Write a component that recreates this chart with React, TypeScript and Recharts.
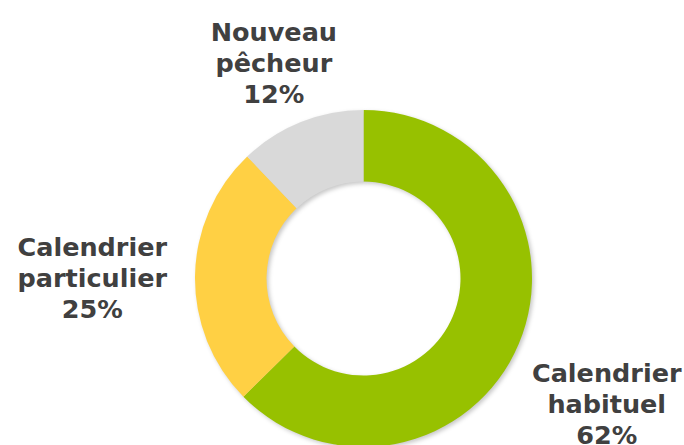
import { PieChart, Pie, Cell } from 'recharts'

const categories = ['Calendrier habituel', 'Calendrier particulier', 'Nouveau pêcheur']
const shares = [62, 25, 12]
const colors = ['#97C100', '#FFD044', '#D9D9D9']

const data = categories.map((name, i) => ({ name, value: shares[i] }))

const RADIAN = Math.PI / 180
const FONT_SIZE = 25.5
const LINE_H = 31

// label block sits just outside the ring, pushed out along the slice's mid angle
const renderLabel = (props: any) => {
  const { cx, cy, midAngle, outerRadius, name, value } = props
  const lines = [...name.split(' '), `${value}%`]
  const cos = Math.cos(-midAngle * RADIAN)
  const sin = Math.sin(-midAngle * RADIAN)
  const w = Math.max(...lines.map((l: string) => l.length)) * 0.59 * FONT_SIZE
  const h = lines.length * LINE_H
  const r = outerRadius + 20
  const x = cx + r * cos + (w / 2) * cos
  const y = cy + r * sin + (h / 2) * sin + (sin > 0.3 ? 32 : 0)
  const first = y - ((lines.length - 1) / 2) * LINE_H + 12
  return (
    <text x={x} y={first} textAnchor="middle" fill="#404040" fontSize={FONT_SIZE} fontWeight="bold" fontFamily="'DejaVu Sans', Verdana, sans-serif">
      {lines.map((l: string, i: number) => (
        <tspan key={i} x={x} dy={i === 0 ? 0 : LINE_H}>{l}</tspan>
      ))}
    </text>
  )
}

export default function App() {
  return (
    <div style={{ position: 'absolute', left: 0, top: 0, width: 684, height: 445, background: '#fff' }}>
      <PieChart width={684} height={445} margin={{ top: 0, right: 0, bottom: 0, left: 0 }}>
        <Pie data={data} dataKey="value" cx={365.5} cy={280.5} innerRadius={97} outerRadius={168.5}
          startAngle={90} endAngle={-270} stroke="none" isAnimationActive={false}>
          {data.map((_, i) => <Cell key={i} fill="rgba(0,0,0,0.22)" style={{ filter: 'blur(2px)' }} />)}
        </Pie>
        <Pie data={data} dataKey="value" cx={363.5} cy={278.5} innerRadius={97} outerRadius={168.5}
          startAngle={90} endAngle={-270} stroke="none" isAnimationActive={false}
          label={renderLabel} labelLine={false}>
          {data.map((_, i) => <Cell key={i} fill={colors[i]} />)}
        </Pie>
      </PieChart>
    </div>
  )
}
